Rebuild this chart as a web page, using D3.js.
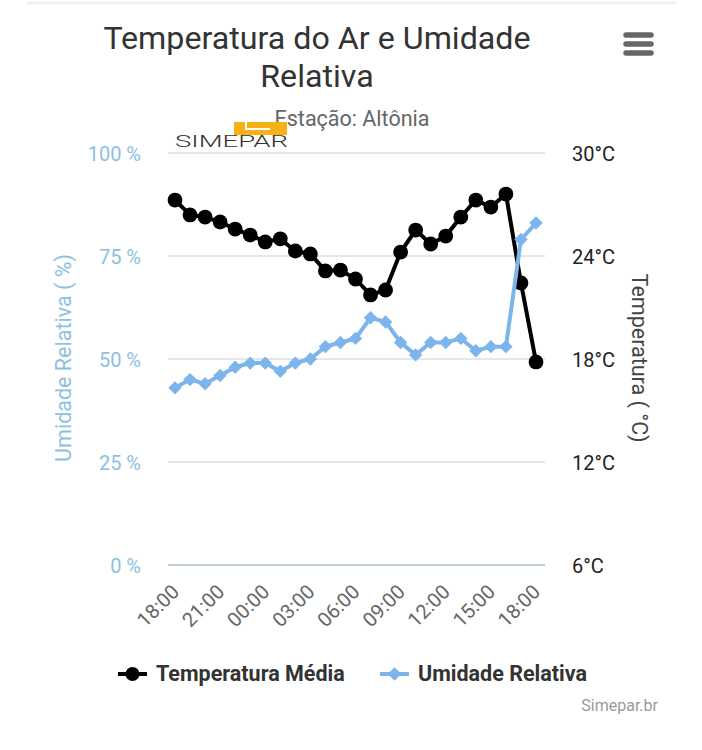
<!DOCTYPE html>
<html>
<head>
<meta charset="utf-8">
<script src="https://cdn.jsdelivr.net/npm/d3@7"></script>
<style>
html, body { margin: 0; padding: 0; background: #fff; }
text { font-family: Roboto, sans-serif; }
</style>
</head>
<body>
<div id="chart"></div>
<script>
const hours = ["18:00","19:00","20:00","21:00","22:00","23:00","00:00","01:00","02:00","03:00","04:00","05:00","06:00",
    "07:00","08:00","09:00","10:00","11:00","12:00","13:00","14:00","15:00","16:00","17:00","18:00 "];
const temperature = [27.26,26.39,26.27,25.98,25.57,25.22,24.82,25.0,24.29,24.12,23.13,23.18,22.66,
    21.73,22.02,24.23,25.51,24.7,25.16,26.27,27.26,26.85,27.61,22.43,17.83];
const humidity = [43,45,44,46,48,49,49,47,49,50,53,54,55,60,59,54,51,54,54,55,52,53,53,79,83];
const hourTicks = ["18:00","21:00","00:00","03:00","06:00","09:00","12:00","15:00","18:00 "];
const humidityTicks = [0,25,50,75,100];
const temperatureTicks = [6,12,18,24,30];
const legendNames = ["Temperatura Média","Umidade Relativa"];

const tempColor = "#000000";
const humColor = "#7cb5ec";
const humText = "#8dbfdf";

const svg = d3.select("#chart").append("svg")
    .attr("width", 702).attr("height", 750)
    .style("display", "block");

const x = d3.scalePoint().domain(hours).range([175, 536]);
const yHum = d3.scaleLinear().domain([0, 100]).range([565, 153]);
const yTemp = d3.scaleLinear().domain([6, 30]).range([565, 153]);

// faint line at the top of the page
svg.append("line").attr("x1", 27).attr("x2", 676).attr("y1", 3).attr("y2", 3)
    .attr("stroke", "#f0f0f0").attr("stroke-width", 3);

// titles
svg.selectAll(".title").data(["Temperatura do Ar e Umidade", "Relativa"]).join("text")
    .attr("x", 317).attr("y", (d, i) => 49 + i * 38)
    .attr("text-anchor", "middle").attr("font-size", 32.2).attr("fill", "#333333")
    .text(d => d);
svg.append("text").attr("x", 352).attr("y", 126)
    .attr("text-anchor", "middle").attr("font-size", 21.5).attr("fill", "#666666")
    .text("Estação: Altônia");

// logo
svg.append("rect").attr("x", 234).attr("y", 122).attr("width", 53).attr("height", 13)
    .attr("fill", "#f7b015");
svg.append("path").attr("d", "M246,122V129H270")
    .attr("fill", "none").attr("stroke", "#fff").attr("stroke-width", 2);
svg.append("text").attr("x", 175).attr("y", 147)
    .attr("textLength", 113).attr("lengthAdjust", "spacingAndGlyphs")
    .attr("font-size", 16).attr("font-weight", 300).attr("fill", "#333333")
    .text("SIMEPAR");

// menu icon
svg.selectAll(".menu").data([35, 44, 53]).join("line")
    .attr("x1", 626).attr("x2", 651).attr("y1", d => d).attr("y2", d => d)
    .attr("stroke", "#666666").attr("stroke-width", 5.5).attr("stroke-linecap", "round");

// grid
svg.selectAll(".grid").data(humidityTicks).join("line")
    .attr("x1", 168).attr("x2", 545)
    .attr("y1", d => yHum(d)).attr("y2", d => yHum(d))
    .attr("stroke", d => d === 0 ? "#c0d0e0" : "#e6e6e6").attr("stroke-width", 2);

// axes
const leftAxis = svg.append("g").attr("transform", "translate(150,1)")
    .call(d3.axisLeft(yHum).tickValues(humidityTicks).tickSize(0).tickPadding(9).tickFormat(d => d + " %"));
const rightAxis = svg.append("g").attr("transform", "translate(563,1)")
    .call(d3.axisRight(yTemp).tickValues(temperatureTicks).tickSize(0).tickPadding(9).tickFormat(d => d + "°C"));
const bottomAxis = svg.append("g").attr("transform", "translate(0,565)")
    .call(d3.axisBottom(x).tickValues(hourTicks).tickSize(0).tickFormat(d => d.trim()));
[leftAxis, rightAxis, bottomAxis].forEach(a => a.select(".domain").remove());
leftAxis.selectAll("text").attr("font-size", 20).attr("fill", humText).style("font-family", "Roboto");
rightAxis.selectAll("text").attr("font-size", 20).attr("fill", "#222222").style("font-family", "Roboto");
bottomAxis.selectAll("text")
    .attr("font-size", 20).attr("fill", "#666666").style("font-family", "Roboto")
    .attr("text-anchor", "end").attr("dy", 0).attr("y", 0)
    .attr("transform", "translate(5,28) rotate(-45)");

// axis titles
svg.append("text").attr("transform", "translate(71,358) rotate(-90)")
    .attr("text-anchor", "middle").attr("font-size", 21.5).attr("fill", humText)
    .text("Umidade Relativa ( %)");
svg.append("text").attr("transform", "translate(632,358) rotate(90)")
    .attr("text-anchor", "middle").attr("font-size", 21.5).attr("fill", "#444444")
    .text("Temperatura ( °C)");

// series
const tempLine = d3.line().x((d, i) => x(hours[i])).y(d => yTemp(d));
const humLine = d3.line().x((d, i) => x(hours[i])).y(d => yHum(d));
const diamond = d3.symbol().type(d3.symbolSquare).size(90);

svg.append("path").datum(temperature).attr("d", tempLine)
    .attr("fill", "none").attr("stroke", tempColor).attr("stroke-width", 4);
svg.selectAll(".temp").data(temperature).join("circle")
    .attr("cx", (d, i) => x(hours[i])).attr("cy", d => yTemp(d))
    .attr("r", 7.4).attr("fill", tempColor);

svg.append("path").datum(humidity).attr("d", humLine)
    .attr("fill", "none").attr("stroke", humColor).attr("stroke-width", 4);
svg.selectAll(".hum").data(humidity).join("path")
    .attr("d", diamond)
    .attr("transform", (d, i) => `translate(${x(hours[i])},${yHum(d)}) rotate(45)`)
    .attr("fill", humColor);

// legend
const legendX = [118, 380];
const legendColors = [tempColor, humColor];
legendNames.forEach((name, i) => {
    const g = svg.append("g").attr("transform", `translate(${legendX[i]},674)`);
    g.append("line").attr("x1", 0).attr("x2", 29).attr("stroke", legendColors[i]).attr("stroke-width", 4);
    if (i === 0) {
        g.append("circle").attr("cx", 14.5).attr("r", 7).attr("fill", legendColors[i]);
    } else {
        g.append("path").attr("d", diamond).attr("transform", "translate(14.5,0) rotate(45)").attr("fill", legendColors[i]);
    }
    g.append("text").attr("x", 38).attr("y", 7)
        .attr("font-size", 21.5).attr("font-weight", 700).attr("fill", "#333333")
        .text(name);
});

// credit
svg.append("text").attr("x", 658).attr("y", 711)
    .attr("text-anchor", "end").attr("font-size", 16).attr("fill", "#999999")
    .text("Simepar.br");
</script>
</body>
</html>
